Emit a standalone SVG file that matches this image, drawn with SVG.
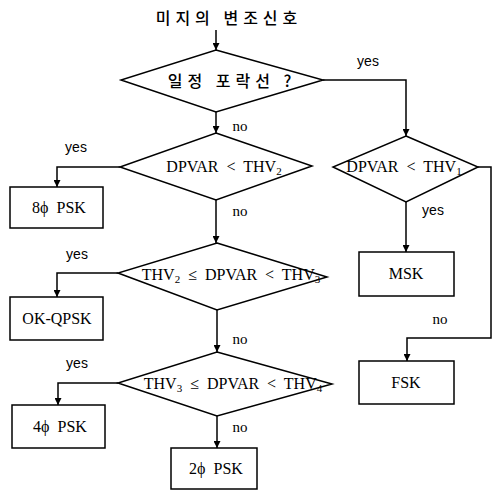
<svg xmlns="http://www.w3.org/2000/svg" width="493" height="491" viewBox="0 0 493 491">
<style>
.shape{fill:none;stroke:#000;stroke-width:1.5}
.conn{fill:none;stroke:#000;stroke-width:1.5}
.t{font-family:"Liberation Serif","DejaVu Serif",serif;font-size:16px;fill:#000;text-anchor:middle;white-space:pre}
.s{font-size:11px}
.k{font-family:"Noto Sans CJK KR",sans-serif;font-size:16px;font-weight:500;fill:#000;text-anchor:middle;letter-spacing:5px;white-space:pre}
.y{font-family:"Liberation Sans",Arial,sans-serif;font-size:14px;fill:#000;text-anchor:middle}
.n{font-family:"Liberation Serif",serif;font-size:15px;fill:#000;text-anchor:middle}
</style>
<defs>
<marker id="ah" viewBox="0 0 8 8" refX="8" refY="4" markerWidth="7" markerHeight="7" orient="auto" markerUnits="userSpaceOnUse">
<path d="M0,0 L8,4 L0,8 z" fill="#000"/>
</marker>
</defs>
<g id="title"><text class="k" x="229" y="24">미지의 변조신호</text></g>
<g id="d1"><polygon class="shape" points="216,50 323,80 216,112 121,80"/><text class="k" x="232" y="87">일정 포락선 ?</text></g>
<g id="d2"><polygon class="shape" points="216,133 312,166 216,200 120,167"/><text class="t" x="224" y="172">DPVAR  &lt;  THV<tspan class="s" dy="3">2</tspan></text></g>
<g id="d3"><polygon class="shape" points="217,243 327,277 217,310 118,273"/><text class="t" x="231" y="280">THV<tspan class="s" dy="3">2</tspan><tspan dy="-3">  ≤  DPVAR  &lt;  THV</tspan><tspan class="s" dy="3">3</tspan></text></g>
<g id="d4"><polygon class="shape" points="217,352 332,384 217,416 118,383"/><text class="t" x="233" y="389">THV<tspan class="s" dy="3">3</tspan><tspan dy="-3">  ≤  DPVAR  &lt;  THV</tspan><tspan class="s" dy="3">4</tspan></text></g>
<g id="d5"><polygon class="shape" points="406,136 478,167 406,202 333,167"/><text class="t" x="404" y="172">DPVAR  &lt;  THV<tspan class="s" dy="3">1</tspan></text></g>
<g id="b1"><rect class="shape" x="10" y="187" width="93" height="41"/><text class="t" x="59" y="213">8ϕ  PSK</text></g>
<g id="b2"><rect class="shape" x="10" y="297" width="93" height="43"/><text class="t" x="57" y="324">OK-QPSK</text></g>
<g id="b3"><rect class="shape" x="12" y="405" width="93" height="43"/><text class="t" x="60" y="432">4ϕ  PSK</text></g>
<g id="b4"><rect class="shape" x="171" y="448" width="86" height="41"/><text class="t" x="216" y="474">2ϕ  PSK</text></g>
<g id="b5"><rect class="shape" x="359" y="252" width="95" height="44"/><text class="t" x="406" y="279">MSK</text></g>
<g id="b6"><rect class="shape" x="359" y="361" width="95" height="43"/><text class="t" x="406" y="388">FSK</text></g>
<g id="connectors">
<path class="conn" d="M216,30 V50" marker-end="url(#ah)"/>
<path class="conn" d="M216,112 V133" marker-end="url(#ah)"/>
<path class="conn" d="M323,80 H406 V136" marker-end="url(#ah)"/>
<path class="conn" d="M120,167 H57 V187" marker-end="url(#ah)"/>
<path class="conn" d="M216,200 V243" marker-end="url(#ah)"/>
<path class="conn" d="M118,273 H57 V297" marker-end="url(#ah)"/>
<path class="conn" d="M217,310 V352" marker-end="url(#ah)"/>
<path class="conn" d="M118,383 H58 V405" marker-end="url(#ah)"/>
<path class="conn" d="M217,416 V448" marker-end="url(#ah)"/>
<path class="conn" d="M406,202 V252" marker-end="url(#ah)"/>
<path class="conn" d="M478,167 H491 V338 H407 V361" marker-end="url(#ah)"/>
</g>
<g id="labels">
<text class="y" x="368" y="66">yes</text>
<text class="n" x="240" y="131">no</text>
<text class="y" x="76" y="152">yes</text>
<text class="n" x="240" y="216">no</text>
<text class="y" x="77" y="259">yes</text>
<text class="n" x="240" y="344">no</text>
<text class="y" x="77" y="368">yes</text>
<text class="n" x="240" y="432">no</text>
<text class="y" x="433" y="215">yes</text>
<text class="n" x="440" y="324">no</text>
</g>
</svg>
